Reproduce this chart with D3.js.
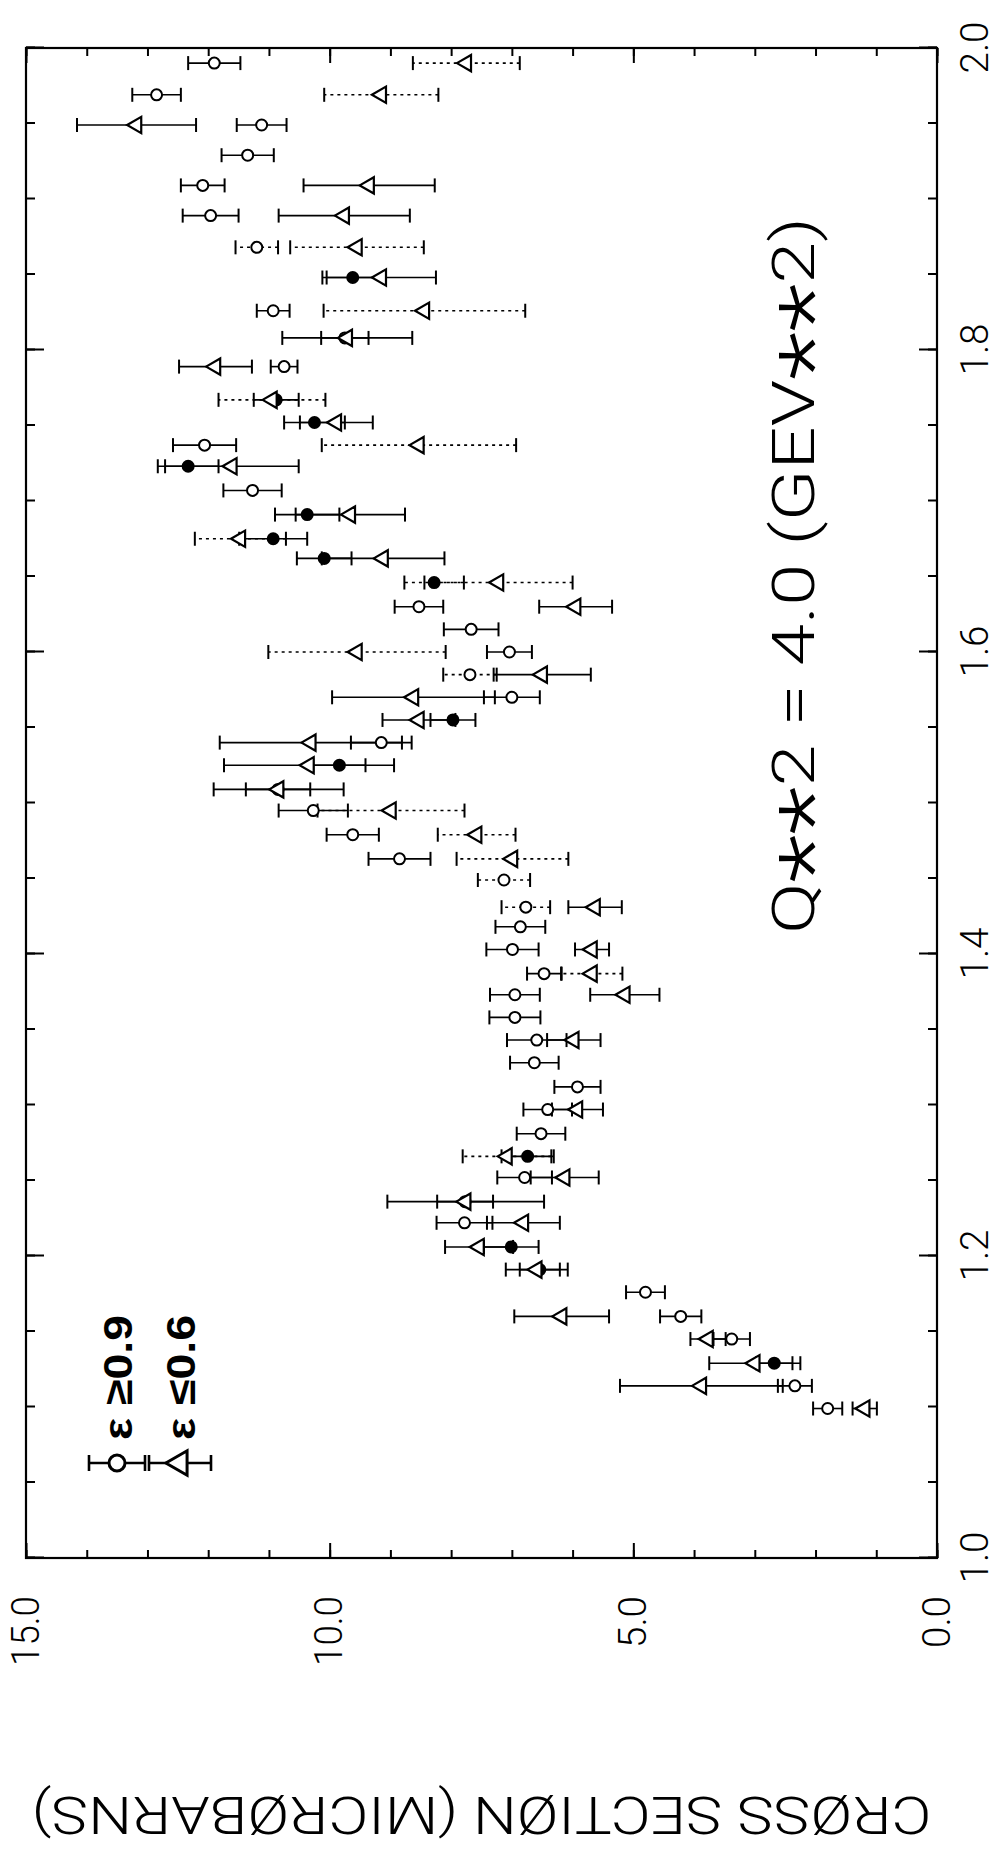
<!DOCTYPE html>
<html>
<head>
<meta charset="utf-8">
<script src="https://cdn.jsdelivr.net/npm/d3@7"></script>
<style>
  html, body { margin: 0; padding: 0; background: #fff; }
  svg { display: block; }
</style>
</head>
<body>
<svg id="chart" width="999" height="1861"></svg>
<script>
// ---- data: cross section (microbarns) vs W (GeV) at Q**2 = 4.0 GeV**2 ----

// ε ≥ 0.9 points (circles)
const circleW = [1.990, 1.969, 1.949, 1.929, 1.909, 1.889, 1.868, 1.848, 1.826, 1.808,
                 1.789, 1.767, 1.752, 1.737, 1.723, 1.707, 1.691, 1.675, 1.662, 1.646,
                 1.630, 1.615, 1.600, 1.585, 1.570, 1.555, 1.540, 1.525, 1.509, 1.495,
                 1.479, 1.463, 1.449, 1.431, 1.418, 1.403, 1.387, 1.373, 1.358, 1.343,
                 1.328, 1.312, 1.297, 1.281, 1.266, 1.252, 1.236, 1.222, 1.206, 1.191,
                 1.176, 1.160, 1.145, 1.129, 1.114, 1.099];
const circleSigma = [11.90, 12.85, 11.12, 11.35, 12.09, 11.96, 11.20, 9.62, 10.93, 9.75,
                     10.75, 10.88, 10.25, 12.06, 12.33, 11.27, 10.37, 10.93, 10.09, 8.28,
                     8.53, 7.67, 7.04, 7.69, 7.00, 7.97, 9.15, 9.84, 10.85, 10.27,
                     9.62, 8.85, 7.13, 6.77, 6.86, 6.99, 6.47, 6.95, 6.95, 6.59,
                     6.63, 5.92, 6.41, 6.52, 6.74, 6.79, 7.77, 7.78, 7.01, 6.54,
                     4.80, 4.22, 3.38, 2.68, 2.34, 1.80];
const circleErr = [0.43, 0.40, 0.41, 0.43, 0.36, 0.46, 0.35, 0.50, 0.27, 0.39,
                   0.22, 0.37, 0.50, 0.52, 0.50, 0.48, 0.53, 0.56, 0.45, 0.49,
                   0.40, 0.45, 0.37, 0.44, 0.46, 0.37, 0.50, 0.43, 0.53, 0.57,
                   0.43, 0.51, 0.43, 0.40, 0.41, 0.43, 0.28, 0.41, 0.42, 0.49,
                   0.40, 0.38, 0.40, 0.40, 0.43, 0.45, 0.46, 0.46, 0.45, 0.33,
                   0.32, 0.34, 0.30, 0.30, 0.28, 0.24];
// solid dots among the circles
const circleFilled = [0, 0, 0, 0, 0, 0, 0, 1, 0, 0,
                      0, 1, 1, 0, 1, 0, 1, 1, 1, 1,
                      0, 0, 0, 0, 0, 1, 0, 1, 0, 0,
                      0, 0, 0, 0, 0, 0, 0, 0, 0, 0,
                      0, 0, 0, 0, 1, 0, 0, 0, 1, 1,
                      0, 0, 0, 1, 0, 0];
// error bars printed with a broken line
const circleDotted = [0, 0, 0, 0, 0, 0, 1, 0, 0, 0,
                      0, 0, 0, 0, 0, 0, 0, 0, 0, 1,
                      0, 0, 0, 1, 0, 0, 0, 0, 0, 0,
                      0, 0, 1, 1, 0, 0, 0, 0, 0, 0,
                      0, 0, 0, 0, 0, 0, 0, 0, 0, 0,
                      0, 0, 0, 0, 0, 0];

// ε ≤ 0.6 points (triangles)
const triW = [1.990, 1.969, 1.949, 1.909, 1.889, 1.868, 1.848, 1.826, 1.808, 1.789,
              1.767, 1.752, 1.737, 1.723, 1.691, 1.675, 1.662, 1.646, 1.630, 1.600,
              1.585, 1.570, 1.555, 1.540, 1.525, 1.509, 1.495, 1.479, 1.463, 1.431,
              1.403, 1.387, 1.373, 1.343, 1.297, 1.266, 1.252, 1.236, 1.222, 1.206,
              1.191, 1.160, 1.145, 1.129, 1.114, 1.099];
const triSigma = [7.75, 9.15, 13.18, 9.35, 9.76, 9.55, 9.15, 8.44, 9.71, 11.88,
                  10.95, 9.89, 8.53, 11.61, 9.66, 11.47, 9.12, 7.22, 5.95, 9.55,
                  6.50, 8.62, 8.53, 10.31, 10.34, 10.84, 8.99, 7.58, 6.99, 5.63,
                  5.68, 5.68, 5.14, 5.98, 5.92, 7.08, 6.13, 7.76, 6.81, 7.54,
                  6.59, 6.18, 3.77, 3.00, 3.88, 1.19];
const triErr = [0.88, 0.94, 0.98, 1.08, 1.08, 1.10, 0.90, 1.66, 1.07, 0.60,
                0.88, 0.60, 1.60, 1.10, 0.90, 0.75, 1.01, 1.22, 0.60, 1.46,
                0.80, 1.34, 0.60, 1.50, 1.40, 1.07, 1.21, 0.64, 0.92, 0.44,
                0.28, 0.50, 0.57, 0.44, 0.42, 0.73, 0.56, 1.29, 0.60, 0.56,
                0.51, 0.78, 0.29, 0.75, 1.34, 0.20];
const triDotted = [1, 1, 0, 0, 0, 1, 0, 1, 0, 0,
                   1, 0, 1, 0, 0, 1, 0, 1, 0, 1,
                   0, 0, 0, 0, 0, 0, 1, 1, 1, 0,
                   0, 1, 0, 0, 0, 1, 0, 0, 0, 0,
                   0, 0, 0, 0, 0, 0];

// axis ticks
const wTicks = [1.0, 1.2, 1.4, 1.6, 1.8, 2.0];
const wMinorTicks = d3.range(0, 21).map(i => 1 + i / 20);
const sigmaTicks = [0, 5, 10, 15];
const sigmaMinorTicks = d3.range(0, 16);

// ---- layout ----
// The plot is laid out landscape (1861 x 999) and turned a quarter turn
// counter-clockwise onto the portrait page.
const PAGE_W = 999, PAGE_H = 1861;
const plot = { left: 303, right: 1813, top: 26, bottom: 937 };

const plotFont = "Roboto, 'Open Sans', 'DejaVu Sans', sans-serif";
const ink = "#000";

const svg = d3.select("#chart");
svg.append("rect").attr("width", PAGE_W).attr("height", PAGE_H).attr("fill", "#fff");

const g = svg.append("g")
  .attr("transform", `translate(0,${PAGE_H}) rotate(-90)`);

const x = d3.scaleLinear().domain([1, 2]).range([plot.left, plot.right]);
const y = d3.scaleLinear().domain([0, 15]).range([plot.bottom, plot.top]);

function plainAxis(sel) {
  sel.select(".domain").remove();
  sel.selectAll(".tick line").attr("stroke", ink).attr("stroke-width", 2);
}
function labelStyle(sel, lengths) {
  sel.selectAll(".tick text")
    .attr("fill", ink)
    .style("font-family", plotFont)
    .style("font-weight", 300)
    .style("font-size", "38px")
    .attr("lengthAdjust", "spacingAndGlyphs")
    .attr("textLength", function () { return lengths(this.textContent); });
}

// W ticks (inward) on both long edges
g.append("g").attr("transform", `translate(0,${plot.bottom})`)
  .call(d3.axisBottom(x).tickValues(wMinorTicks).tickSize(-9).tickFormat(""))
  .call(plainAxis);
g.append("g").attr("transform", `translate(0,${plot.top})`)
  .call(d3.axisTop(x).tickValues(wMinorTicks).tickSize(-9).tickFormat(""))
  .call(plainAxis);
g.append("g").attr("transform", `translate(0,${plot.top})`)
  .call(d3.axisTop(x).tickValues(wTicks).tickSize(-18).tickFormat(""))
  .call(plainAxis);
g.append("g").attr("transform", `translate(0,${plot.bottom})`)
  .call(d3.axisBottom(x).tickValues(wTicks).tickSize(-18).tickPadding(24)
        .tickFormat(d3.format(".1f")))
  .call(plainAxis)
  .call(s => labelStyle(s, t => 52));

// cross-section ticks on both short edges
g.append("g").attr("transform", `translate(${plot.left},0)`)
  .call(d3.axisLeft(y).tickValues(sigmaMinorTicks).tickSize(-8).tickFormat(""))
  .call(plainAxis);
g.append("g").attr("transform", `translate(${plot.right},0)`)
  .call(d3.axisRight(y).tickValues(sigmaMinorTicks).tickSize(-8).tickFormat(""))
  .call(plainAxis);
g.append("g").attr("transform", `translate(${plot.right},0)`)
  .call(d3.axisRight(y).tickValues(sigmaTicks).tickSize(-15).tickFormat(""))
  .call(plainAxis);
g.append("g").attr("transform", `translate(${plot.left},0)`)
  .call(d3.axisLeft(y).tickValues(sigmaTicks).tickSize(-15).tickPadding(38)
        .tickFormat(d3.format(".1f")))
  .call(plainAxis)
  .call(s => labelStyle(s, t => t.length > 3 ? 70 : 52));

// frame
g.append("rect")
  .attr("x", plot.left).attr("y", plot.top)
  .attr("width", plot.right - plot.left).attr("height", plot.bottom - plot.top)
  .attr("fill", "none").attr("stroke", ink).attr("stroke-width", 2.2);

// axis title
g.append("text")
  .attr("transform", `translate(64,${(plot.top + plot.bottom) / 2}) rotate(-90)`)
  .attr("text-anchor", "middle")
  .attr("textLength", 900).attr("lengthAdjust", "spacingAndGlyphs")
  .style("font-family", plotFont).style("font-weight", 300)
  .style("font-size", "52px").attr("fill", ink)
  .text("CRØSS SECTIØN (MICRØBARNS)");

// kinematics label
const q2 = g.append("text")
  .attr("x", 927).attr("y", 814)
  .attr("textLength", 717).attr("lengthAdjust", "spacingAndGlyphs")
  .style("font-family", plotFont).style("font-weight", 300)
  .style("font-size", "60px").attr("fill", ink);
[["Q", 0], ["**", 1], ["2 = 4.0 (GEV", 0], ["**", 1], ["2)", 0]].forEach(([t, star], i) => {
  const ts = q2.append("tspan").text(t);
  if (star) ts.style("font-size", "90px").attr("dy", 30);
  else if (i > 0) ts.attr("dy", -30);
});

// ---- data marks ----
const circles = circleW.map((w, i) => ({
  w, s: circleSigma[i], e: circleErr[i],
  filled: !!circleFilled[i], dotted: !!circleDotted[i]
}));
const triangles = triW.map((w, i) => ({
  w, s: triSigma[i], e: triErr[i], dotted: !!triDotted[i]
}));

const CAP = 7;
function drawErrorBars(layer, data) {
  const bars = layer.selectAll("g").data(data).join("g")
    .attr("stroke", ink).attr("stroke-width", 1.6).attr("fill", "none");
  bars.append("line")
    .attr("x1", d => x(d.w)).attr("x2", d => x(d.w))
    .attr("y1", d => y(d.s - d.e)).attr("y2", d => y(d.s + d.e))
    .attr("stroke-dasharray", d => d.dotted ? "3,4" : null);
  [-1, 1].forEach(sign => {
    bars.append("line")
      .attr("x1", d => x(d.w) - CAP).attr("x2", d => x(d.w) + CAP)
      .attr("y1", d => y(d.s + sign * d.e)).attr("y2", d => y(d.s + sign * d.e))
      .attr("stroke-width", 2);
  });
}

const barLayer = g.append("g");
drawErrorBars(barLayer.append("g"), circles);
drawErrorBars(barLayer.append("g"), triangles);

const triangleSymbol = d3.symbol().type(d3.symbolTriangle).size(115);

g.append("g").selectAll("circle").data(circles).join("circle")
  .attr("cx", d => x(d.w)).attr("cy", d => y(d.s)).attr("r", 5.5)
  .attr("fill", d => d.filled ? ink : "#fff")
  .attr("stroke", ink).attr("stroke-width", 2);

g.append("g").selectAll("path").data(triangles).join("path")
  .attr("d", triangleSymbol)
  .attr("transform", d => `translate(${x(d.w)},${y(d.s)})`)
  .attr("fill", "#fff").attr("stroke", ink).attr("stroke-width", 2.2);

// ---- legend ----
const legendItems = [
  { label: "ε ≥0.9", shape: "circle", cy: 117, half: 28 },
  { label: "ε ≤0.6", shape: "triangle", cy: 180, half: 31 }
];
const legendX = 398;
const legend = g.append("g");
legendItems.forEach(it => {
  const lg = legend.append("g").attr("stroke", ink).attr("fill", "none");
  lg.append("line").attr("x1", legendX).attr("x2", legendX)
    .attr("y1", it.cy - it.half).attr("y2", it.cy + it.half).attr("stroke-width", 2.4);
  [-1, 1].forEach(sign => lg.append("line")
    .attr("x1", legendX - CAP - 1).attr("x2", legendX + CAP + 1)
    .attr("y1", it.cy + sign * it.half).attr("y2", it.cy + sign * it.half)
    .attr("stroke-width", 2.6));
  if (it.shape === "circle") {
    lg.append("circle").attr("cx", legendX).attr("cy", it.cy).attr("r", 8)
      .attr("fill", "#fff").attr("stroke-width", 3);
  } else {
    lg.append("path").attr("d", d3.symbol().type(d3.symbolTriangle).size(260)())
      .attr("transform", `translate(${legendX},${it.cy})`)
      .attr("fill", "#fff").attr("stroke-width", 3);
  }
  legend.append("text")
    .attr("x", 421).attr("y", it.cy + 15)
    .attr("textLength", 125).attr("lengthAdjust", "spacingAndGlyphs")
    .style("font-family", "'Liberation Sans', Arial, sans-serif")
    .style("font-weight", 700).style("font-size", "40px")
    .attr("fill", ink)
    .text(it.label);
});
</script>
</body>
</html>
